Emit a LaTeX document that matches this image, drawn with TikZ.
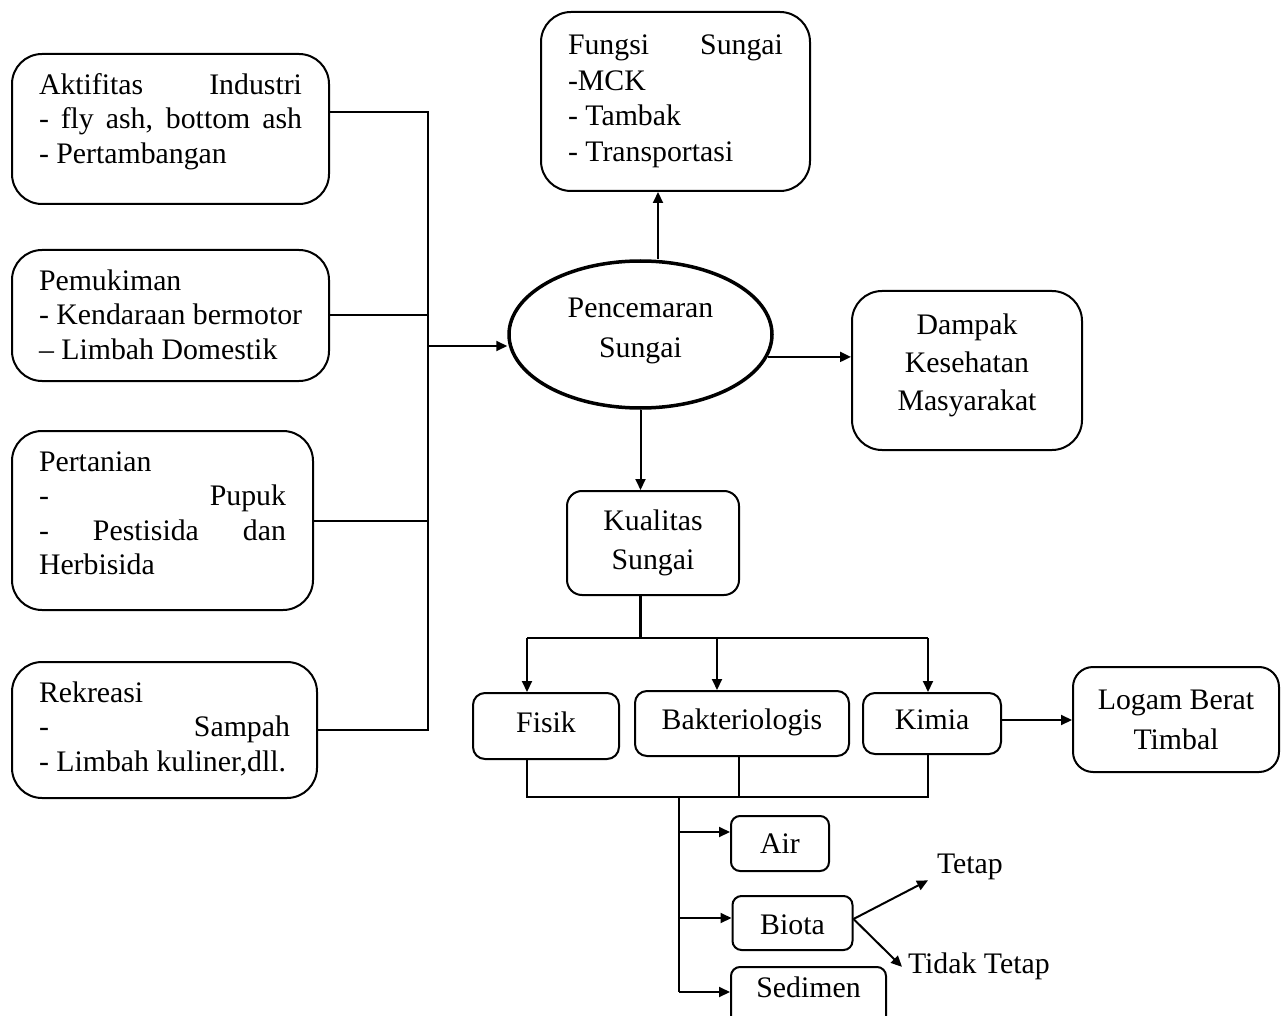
\documentclass[tikz,border=0pt]{standalone}
\usepackage{fontspec}
\setmainfont{Liberation Serif}
\usetikzlibrary{arrows.meta,shapes.geometric}
\newcommand\lline[1]{\makebox[\linewidth][l]{#1}}
\newcommand\jline[1]{\makebox[\linewidth][s]{#1}}
\begin{document}
\begin{tikzpicture}[x=1pt,y=-1pt,
  font=\fontsize{29.8}{34.5}\selectfont,
  line width=2pt,
  src/.style={draw, rounded corners=30pt, anchor=north west, inner xsep=27pt, inner ysep=16pt, line width=2pt},
  cbox/.style={draw, align=center, inner sep=0pt, line width=2pt},
  midbox/.style={cbox, rounded corners=12pt, text height=20pt, text depth=8pt},
  lowbox/.style={cbox, rounded corners=9pt, text height=21pt, text depth=2pt},
  arr/.style={-{Triangle[length=11pt,width=10pt]}},
  lbl/.style={inner sep=0pt, anchor=base west}]
\useasboundingbox (0,0) rectangle (1285,1016);
\clip (0,0) rectangle (1285,1016);

% source boxes
\node[src] (akt) at (11,53) {\parbox[c][118pt][t]{263pt}{\strut\lline{Aktifitas\hfill Industri}\\\jline{- fly ash, bottom ash}\\\lline{- Pertambangan}}};
\node[src] (pem) at (11,249) {\parbox[c][99pt][t]{263pt}{\strut\lline{Pemukiman}\\\lline{- Kendaraan bermotor}\\\lline{– Limbah Domestik}}};
\node[src] (per) at (11,430) {\parbox[c][147pt][t]{247pt}{\strut\lline{Pertanian}\\\lline{-\hfill Pupuk}\\\jline{- Pestisida dan}\\\lline{Herbisida}}};
\node[src] (rek) at (11,661) {\parbox[c][104pt][t]{251pt}{\strut\lline{Rekreasi}\\\lline{-\hfill Sampah}\\\lline{- Limbah kuliner,dll.}}};
\node[src, inner ysep=18pt, font=\fontsize{29.8}{35.5}\selectfont] (fun) at (540,11) {\parbox[c][143pt][t]{215pt}{\strut\lline{Fungsi\hfill Sungai}\\\lline{-MCK}\\\lline{- Tambak}\\\lline{- Transportasi}}};

% central ellipse
\node[ellipse, draw, line width=3.5pt, minimum width=263pt, minimum height=147pt, inner sep=0pt, align=center, font=\fontsize{29.8}{40}\selectfont] (ell) at (640.5,334.5) {Pencemaran\\Sungai\\[-27pt]\mbox{}};

\node[cbox, rounded corners=30pt, minimum width=230pt, minimum height=159pt, font=\fontsize{29.8}{38}\selectfont] (dam) at (967,370.5) {Dampak\\Kesehatan\\Masyarakat\\[-21pt]\mbox{}};
\node[cbox, rounded corners=15pt, minimum width=172pt, minimum height=104pt, font=\fontsize{29.8}{39}\selectfont] (kua) at (653,543) {Kualitas\\Sungai};
\node[cbox, rounded corners=20pt, minimum width=206pt, minimum height=105pt, font=\fontsize{29.8}{40}\selectfont] (log) at (1176,719.5) {Logam Berat\\Timbal};

\node[midbox, minimum width=146pt, minimum height=66pt] (fis) at (546,726) {Fisik};
\node[midbox, minimum width=214pt, minimum height=65pt] (bak) at (742,723.5) {Bakteriologis};
\node[midbox, minimum width=138pt, minimum height=61pt] (kim) at (932,723.5) {Kimia};

\node[lowbox, minimum width=98pt, minimum height=55pt] (air) at (780,843.5) {Air};
\node[lowbox, minimum width=120pt, minimum height=54pt, text height=23pt, text depth=0pt] (bio) at (792.5,923) {Biota};
\node[lowbox, minimum width=155pt, minimum height=60pt, text height=20pt, text depth=20pt] (sed) at (808.5,997) {Sedimen};

\node[lbl] (tet) at (936,873) {Tetap};
\node[lbl] (tid) at (907,973) {Tidak Tetap};

% left collector
\coordinate (jt) at (428,111);
\coordinate (aktout) at ([yshift=17pt]akt.east);
\draw (aktout) -| (jt |- rek.east) -- (rek.east);
\draw (pem.east) -- (pem.east -| jt);
\draw (per.east) -- (per.east -| jt);
\coordinate (ellin) at ([yshift=-11.5pt]ell.west);
\draw[arr] (ellin -| jt) -- (ellin);

% ellipse outputs
\coordinate (ellup) at ([xshift=17.5pt]ell.north);
\draw[arr] (ellup) -- (ellup |- fun.south);
\draw[arr] (ell.-10.2) -- (ell.-10.2 -| dam.west);
\draw[arr] (ell.south) -- (ell.south |- kua.north);

% kualitas branches
\coordinate (bl) at (527,638);
\coordinate (bm) at (717,638);
\coordinate (br) at (928,638);
\draw[line width=3pt] (ell.south |- kua.south) -- (ell.south |- bl);
\draw (bl) -- (br);
\draw[arr] (bl) -- (bl |- fis.north);
\draw[arr] (bm) -- (bm |- bak.north);
\draw[arr] (br) -- (br |- kim.north);
\coordinate (kimout) at ([yshift=3.5pt]kim.east);
\draw[arr] (kimout) -- (kimout -| log.west);

% lower collector
\coordinate (cl) at (527,797);
\coordinate (cr) at (928,797);
\coordinate (tk) at (679,797);
\draw (cl |- fis.south) -- (cl) -- (cr) -- (cr |- kim.south);
\coordinate (bakout) at ([xshift=-3pt]bak.south);
\draw (bakout) -- (bakout |- cl);
\coordinate (airin) at ([yshift=11.5pt]air.west);
\coordinate (bioin) at ([yshift=5pt]bio.west);
\coordinate (sedin) at ([yshift=5pt]sed.west);
\draw (tk) -- (tk |- sedin);
\draw[arr] (tk |- airin) -- (airin);
\draw[arr] (tk |- bioin) -- (bioin);
\draw[arr] (tk |- sedin) -- (sedin);

% biota outputs
\coordinate (bout) at ([yshift=4pt]bio.east);
\draw[arr] (bout) -- ([xshift=-8pt]tet.south west);
\draw[arr] (bout) -- ([xshift=-5pt,yshift=-1pt]tid.west);
\end{tikzpicture}
\end{document}
